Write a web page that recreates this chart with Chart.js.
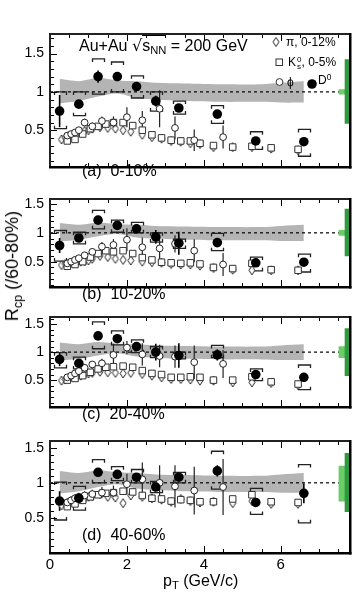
<!DOCTYPE html>
<html>
<head>
<meta charset="utf-8">
<script src="https://cdn.jsdelivr.net/npm/chart.js@4.4.0/dist/chart.umd.min.js"></script>
<style>
  body { margin: 0; background: #fff; }
  #wrap { position: relative; width: 362px; height: 600px; overflow: hidden;
          font-family: "Liberation Sans", Arial, Helvetica, sans-serif; color: #000; }
  #wrap canvas { position: absolute; left: 0; }
  .t { position: absolute; white-space: nowrap; line-height: 1; }
  .t sub { font-size: 70%; vertical-align: -0.3em; line-height: 0; }
  .t sup { font-size: 70%; vertical-align: 0.5em; line-height: 0; }
</style>
</head>
<body>
<div id="wrap">
  <canvas id="pa" width="362" height="179" style="top:20px"></canvas>
  <canvas id="pb" width="362" height="134" style="top:185px"></canvas>
  <canvas id="pc" width="362" height="136" style="top:303px"></canvas>
  <canvas id="pd" width="362" height="152" style="top:427px"></canvas>

  <div class="t" style="left:79px;top:38px;font-size:16px">Au+Au <span style="font-family:'DejaVu Sans'">√</span><span style="border-top:1px solid #000;padding-top:1px">s<sub>NN</sub></span> = 200 GeV</div>

  <div class="t" style="left:286px;top:36px;font-size:12px">π, 0-12%</div>
  <div class="t" style="left:288px;top:56px;font-size:12px">K<span style="display:inline-block;font-size:8px;line-height:7px;vertical-align:-3px;margin-left:1px">0<br>s</span>, 0-5%</div>
  <div class="t" style="left:287px;top:76px;font-size:12px">ϕ</div>
  <div class="t" style="left:318px;top:74px;font-size:12px">D<sup>0</sup></div>

  <div class="t" style="left:82px;top:163px;font-size:16px">(a)&nbsp; 0-10%</div>
  <div class="t" style="left:82px;top:286px;font-size:16px">(b)&nbsp; 10-20%</div>
  <div class="t" style="left:82px;top:406px;font-size:16px">(c)&nbsp; 20-40%</div>
  <div class="t" style="left:82px;top:527px;font-size:16px">(d)&nbsp; 40-60%</div>

  <div class="t" style="left:12px;top:266px;font-size:18px;transform:translate(-50%,-50%) rotate(-90deg)">R<sub>cp</sub> (/60-80%)</div>
  <div class="t" style="left:163px;top:573px;font-size:16px">p<sub>T</sub> (GeV/c)</div>
</div>

<script>
// D0 points (same pT bins in every panel)
const pTD0 = [0.25, 0.75, 1.25, 1.75, 2.25, 2.75, 3.35, 4.35, 5.35, 6.6];

const d0A    = [0.75, 0.84, 1.20, 1.20, 1.07, 0.88, 0.79, 0.71, 0.36, 0.35];
const statA  = [0.21, 0.05, 0.08, 0.06, 0.04, 0.07, 0.04, 0.05, 0.04, 0.05];
const sysHiA = [1.00, 1.00, 1.43, 1.39, 1.21, 1.00, 0.88, 0.82, 0.48, 0.51];
const sysLoA = [0.52, 0.69, 0.97, 1.00, 0.92, 0.75, 0.71, 0.59, 0.25, 0.16];

const d0B    = [0.78, 0.91, 1.22, 1.13, 1.07, 0.93, 0.82, 0.83, 0.48, 0.49];
const statB  = [0.13, 0.04, 0.06, 0.05, 0.05, 0.12, 0.20, 0.05, 0.05, 0.05];
const sysHiB = [1.04, 1.01, 1.39, 1.22, 1.18, 1.00, 0.89, 0.99, 0.58, 0.63];
const sysLoB = [0.51, 0.81, 1.07, 1.01, 1.00, 0.84, 0.73, 0.69, 0.34, 0.32];

const d0C    = [0.87, 0.80, 1.29, 1.24, 1.10, 1.00, 0.94, 0.95, 0.60, 0.55];
const statC  = [0.12, 0.05, 0.06, 0.05, 0.05, 0.15, 0.22, 0.10, 0.05, 0.07];
const sysHiC = [0.99, 0.91, 1.54, 1.38, 1.22, 1.10, 1.00, 1.12, 0.70, 0.77];
const sysLoC = [0.72, 0.70, 1.06, 1.13, 0.99, 0.90, 0.88, 0.90, 0.49, 0.33];

const d0D    = [0.74, 0.78, 1.15, 1.12, 1.08, 0.94, 1.08, 1.17, 0.72, 0.85];
const statD  = [0.14, 0.07, 0.06, 0.05, 0.05, 0.06, 0.05, 0.08, 0.06, 0.14];
const sysHiD = [1.01, 0.95, 1.33, 1.23, 1.19, 1.02, 1.15, 1.45, 0.92, 1.26];
const sysLoD = [0.47, 0.61, 1.00, 1.03, 1.00, 0.86, 1.00, 0.91, 0.55, 0.43];

// pi (0-12%)
const piX = [0.3, 0.4, 0.5, 0.6, 0.7, 0.8, 0.9, 1.0, 1.1, 1.3, 1.5, 1.7, 1.9, 2.1, 2.4, 2.65, 2.9, 3.15, 3.4, 3.65, 3.9, 4.25, 4.75, 5.25, 5.75, 6.45];
const piA = [0.38, 0.40, 0.42, 0.44, 0.46, 0.47, 0.49, 0.50, 0.52, 0.54, 0.53, 0.52, 0.50, 0.48, 0.44, 0.41, 0.39, 0.36, 0.35, 0.33, 0.32, 0.28, 0.28, 0.28, 0.26, 0.24];
const piB = [0.44, 0.46, 0.47, 0.48, 0.49, 0.50, 0.51, 0.52, 0.55, 0.60, 0.58, 0.55, 0.53, 0.52, 0.50, 0.49, 0.48, 0.46, 0.45, 0.45, 0.43, 0.39, 0.36, 0.35, 0.35, 0.35];
const piC = [0.49, 0.51, 0.53, 0.55, 0.56, 0.58, 0.60, 0.62, 0.63, 0.65, 0.64, 0.63, 0.62, 0.63, 0.61, 0.58, 0.55, 0.52, 0.52, 0.51, 0.49, 0.49, 0.46, 0.46, 0.45, 0.41];
const piD = [0.68, 0.70, 0.72, 0.74, 0.76, 0.77, 0.78, 0.80, 0.81, 0.84, 0.80, 0.79, 0.71, 0.82, 0.80, 0.78, 0.76, 0.73, 0.77, 0.74, 0.72, 0.73, 0.71, 0.74, 0.70, 0.70];

// K0s (0-5%)
const kX = [0.45, 0.65, 0.85, 1.05, 1.25, 1.45, 1.65, 1.9, 2.15, 2.4, 2.65, 2.9, 3.15, 3.4, 3.65, 3.9, 4.25, 4.75, 5.25, 5.75, 6.45];
const kA = [0.36, 0.38, 0.45, 0.52, 0.55, 0.58, 0.60, 0.60, 0.56, 0.50, 0.44, 0.40, 0.37, 0.36, 0.36, 0.33, 0.30, 0.28, 0.29, 0.27, 0.25];
const kB = [0.42, 0.45, 0.50, 0.58, 0.64, 0.69, 0.67, 0.69, 0.64, 0.57, 0.53, 0.49, 0.48, 0.47, 0.48, 0.46, 0.40, 0.38, 0.47, 0.36, 0.35];
const kC = [0.50, 0.53, 0.58, 0.64, 0.70, 0.73, 0.74, 0.75, 0.73, 0.67, 0.62, 0.60, 0.55, 0.55, 0.56, 0.55, 0.50, 0.50, 0.56, 0.47, 0.43];
const kD = [0.66, 0.70, 0.75, 0.80, 0.83, 0.85, 0.86, 0.88, 0.87, 0.82, 0.78, 0.77, 0.74, 0.76, 0.75, 0.73, 0.73, 0.77, 0.83, 0.73, 0.72];

// phi
const phiX = [0.45, 0.55, 0.65, 0.75, 0.9, 1.1, 1.35, 1.65, 2.0, 2.4, 2.85, 3.25, 3.75, 4.5];
const phiA = [0.43, 0.45, 0.47, 0.50, 0.60, 0.55, 0.62, 0.60, 0.67, 0.63, 0.78, 0.53, 0.37, 0.41];
const phiErrA = [0.04, 0.04, 0.04, 0.04, 0.05, 0.05, 0.06, 0.08, 0.13, 0.12, 0.24, 0.15, 0.14, 0.15];
const phiB = [0.47, 0.50, 0.53, 0.56, 0.61, 0.67, 0.76, 0.79, 0.88, 0.75, 0.73, 0.81, 0.69, 0.45];
const phiErrB = [0.04, 0.04, 0.04, 0.05, 0.05, 0.06, 0.08, 0.10, 0.20, 0.17, 0.20, 0.15, 0.20, 0.20];
const phiC = [0.55, 0.58, 0.62, 0.66, 0.72, 0.78, 0.80, 0.95, 1.08, 0.96, 0.93, 0.92, 0.82, 0.79];
const phiErrC = [0.05, 0.05, 0.05, 0.05, 0.06, 0.06, 0.08, 0.20, 0.12, 0.20, 0.20, 0.20, 0.30, 0.25];
const phiD = [0.72, 0.75, 0.78, 0.80, 0.82, 0.84, 0.86, 0.86, 0.98, 1.05, 1.00, 0.95, 0.89, 0.94];
const phiErrD = [0.06, 0.06, 0.06, 0.06, 0.06, 0.06, 0.08, 0.10, 0.15, 0.24, 0.25, 0.30, 0.34, 0.40];

// grey band around unity
const bandX  = [0.25, 0.75, 1.25, 1.75, 2.25, 2.75, 3.5, 4.5, 5.5, 6.0, 6.6];
const bandHi = [1.17, 1.14, 1.18, 1.15, 1.14, 1.12, 1.11, 1.10, 1.10, 1.12, 1.14];
const bandLo = [0.85, 0.88, 0.94, 0.98, 0.92, 0.90, 0.88, 0.87, 0.87, 0.86, 0.86];

// normalisation boxes at the right edge
const normX = [7.59, 7.735];
const normLightLo = [0.97, 0.955, 0.90, 0.74];
const normLightHi = [1.03, 1.045, 1.10, 1.24];
const normDarkLo  = [0.59, 0.60, 0.58, 0.59];
const normDarkHi  = [1.42, 1.41, 1.42, 1.42];

const refX = [0, 7.55];
const refY = [1, 1];
const xTickVals = [0, 2, 4, 6];
const yTickVals = [0.5, 1, 1.5];

const FONT = '"Liberation Sans", Arial, Helvetica, sans-serif';

function pts(xs, ys) {
  return xs.map(function (x, i) { return { x: x, y: ys[i] }; });
}

// tall open diamond marker for pions
function diamondImg(w, h) {
  var c = document.createElement('canvas');
  c.width = w + 2; c.height = h + 2;
  var g = c.getContext('2d');
  g.beginPath();
  g.moveTo(c.width / 2, 1);
  g.lineTo(c.width - 1, c.height / 2);
  g.lineTo(c.width / 2, c.height - 1);
  g.lineTo(1, c.height / 2);
  g.closePath();
  g.fillStyle = '#fff'; g.fill();
  g.strokeStyle = '#222'; g.lineWidth = 1; g.stroke();
  return c;
}
var diamond = diamondImg(6, 9);

// error bars + systematic brackets, drawn after the band and dashed line
var errPlugin = {
  id: 'errs',
  afterDatasetDraw: function (chart, args, opts) {
    if (args.index !== 6) return;
    var ctx = chart.ctx, x = chart.scales.x, y = chart.scales.y;
    ctx.save();
    ctx.setLineDash([]);
    ctx.strokeStyle = '#222';
    ctx.lineWidth = 1.2;
    opts.phi.forEach(function (v, i) {
      var px = x.getPixelForValue(phiX[i]);
      ctx.beginPath();
      ctx.moveTo(px, y.getPixelForValue(v - opts.phiErr[i]));
      ctx.lineTo(px, y.getPixelForValue(v + opts.phiErr[i]));
      ctx.stroke();
    });
    ctx.strokeStyle = '#000';
    ctx.lineWidth = 1.6;
    opts.d0.forEach(function (v, i) {
      var px = x.getPixelForValue(pTD0[i]);
      ctx.beginPath();
      ctx.moveTo(px, y.getPixelForValue(v - opts.stat[i]));
      ctx.lineTo(px, y.getPixelForValue(v + opts.stat[i]));
      ctx.stroke();
    });
    ctx.strokeStyle = '#222';
    ctx.lineWidth = 1.3;
    pTD0.forEach(function (xv, i) {
      var px = Math.round(x.getPixelForValue(xv)) + 0.5;
      var hi = y.getPixelForValue(opts.sysHi[i]);
      var lo = y.getPixelForValue(opts.sysLo[i]);
      ctx.beginPath();
      ctx.moveTo(px - 6, hi + 3); ctx.lineTo(px - 6, hi); ctx.lineTo(px + 6, hi); ctx.lineTo(px + 6, hi + 3);
      ctx.moveTo(px - 6, lo - 3); ctx.lineTo(px - 6, lo); ctx.lineTo(px + 6, lo); ctx.lineTo(px + 6, lo - 3);
      ctx.stroke();
    });
    ctx.restore();
  }
};

// frame with inward ticks, drawn with filled rectangles
var framePlugin = {
  id: 'panelFrame',
  afterDraw: function (chart) {
    var ctx = chart.ctx, a = chart.chartArea, x = chart.scales.x, y = chart.scales.y;
    var L = Math.round(a.left), R = Math.round(a.right), T = Math.round(a.top), B = Math.round(a.bottom);
    ctx.save();
    ctx.setLineDash([]);
    ctx.fillStyle = '#000';
    for (var k = 1; k <= 15; k++) {
      var px = Math.round(x.getPixelForValue(k * 0.5));
      var len = (k % 4 === 0) ? 7 : 4;
      ctx.fillRect(px, B - len, 1, len);
      ctx.fillRect(px, T, 1, len);
    }
    for (var j = Math.ceil(y.min * 10); j <= Math.floor(y.max * 10); j++) {
      var py = Math.round(y.getPixelForValue(j / 10));
      var ly = (j % 5 === 0) ? 7 : 4;
      ctx.fillRect(L, py, ly, 1);
    }
    ctx.fillStyle = '#222';
    ctx.fillRect(L - 1, T - 1, 2, B - T + 2);     // left
    ctx.fillRect(L - 1, T - 1, R - L + 2, 2);     // top
    ctx.fillStyle = '#000';
    ctx.fillRect(R - 1, T - 1, 2.5, B - T + 2.5); // right
    ctx.fillRect(L - 1, B - 1, R - L + 2.5, 2.5); // bottom
    ctx.restore();
  }
};

// legend markers inside panel (a)
var legendPlugin = {
  id: 'legendMarks',
  afterDraw: function (chart, args, opts) {
    if (!opts.on) return;
    var ctx = chart.ctx, off = 20;
    ctx.save();
    ctx.drawImage(diamond, 276 - diamond.width / 2, 42 - off - diamond.height / 2);
    ctx.fillStyle = '#fff'; ctx.strokeStyle = '#333'; ctx.lineWidth = 1;
    ctx.fillRect(276, 59 - off, 6.5, 6.5); ctx.strokeRect(276, 59 - off, 6.5, 6.5);
    ctx.beginPath(); ctx.arc(279.5, 82 - off, 3.4, 0, Math.PI * 2); ctx.fill(); ctx.stroke();
    ctx.fillStyle = '#000';
    ctx.beginPath(); ctx.arc(312, 84 - off, 4.8, 0, Math.PI * 2); ctx.fill();
    ctx.restore();
  }
};

function makePanel(id, cfg) {
  return new Chart(document.getElementById(id), {
    type: 'scatter',
    data: {
      datasets: [
        { label: 'D0', data: pts(pTD0, cfg.d0), pointStyle: 'circle', pointRadius: 4.8,
          backgroundColor: '#000', borderColor: '#000', borderWidth: 0 },
        { label: 'phi', data: pts(phiX, cfg.phi), pointStyle: 'circle', pointRadius: 3.4,
          backgroundColor: '#fff', borderColor: '#222', borderWidth: 1 },
        { label: 'K0s', data: pts(kX, cfg.k), pointStyle: 'rect', pointRadius: 4.6,
          backgroundColor: '#fff', borderColor: '#333', borderWidth: 1 },
        { label: 'pi', data: pts(piX, cfg.pi), pointStyle: diamond, pointRadius: 4 },
        { type: 'bar', label: 'norm', data: [{ x: normX[1], y: [cfg.nd[0], cfg.nd[1]] }],
          backgroundColor: '#2f9a3c', barThickness: 5, grouped: false, borderWidth: 0 },
        { type: 'bar', label: 'norm2', data: [{ x: normX[0], y: [cfg.nl[0], cfg.nl[1]] }],
          backgroundColor: '#6acd6a', barThickness: 6, grouped: false, borderWidth: 0 },
        { type: 'line', label: 'unity', data: pts(refX, refY), borderColor: '#000', borderWidth: 1.2,
          borderDash: [3, 3], pointRadius: 0, fill: false },
        { type: 'line', label: 'bandHi', data: pts(bandX, bandHi), borderWidth: 0, borderColor: 'rgba(0,0,0,0)',
          pointRadius: 0, fill: '+1', backgroundColor: '#b4b4b4', tension: 0.3 },
        { type: 'line', label: 'bandLo', data: pts(bandX, bandLo), borderWidth: 0, borderColor: 'rgba(0,0,0,0)',
          pointRadius: 0, fill: false, tension: 0.3 }
      ]
    },
    options: {
      responsive: false,
      animation: false,
      devicePixelRatio: 1,
      events: [],
      layout: { padding: { left: 0, right: 12, top: 10, bottom: cfg.showX ? 4 : 10 } },
      plugins: {
        legend: { display: false },
        tooltip: { enabled: false },
        errs: cfg,
        legendMarks: { on: !!cfg.legend }
      },
      scales: {
        x: {
          type: 'linear', min: 0, max: 7.8, display: !!cfg.showX, offset: false,
          grid: { display: false, drawTicks: false, offset: false }, border: { display: false },
          afterBuildTicks: function (s) { s.ticks = xTickVals.map(function (v) { return { value: v }; }); },
          ticks: { font: { family: FONT, size: 15 }, color: '#000', padding: 3, maxRotation: 0, autoSkip: false },
          afterFit: function (s) { s.height = 22; }
        },
        y: {
          type: 'linear', min: cfg.yMin, max: cfg.yMax, offset: false,
          grid: { display: false, drawTicks: false }, border: { display: false },
          afterBuildTicks: function (s) { s.ticks = yTickVals.map(function (v) { return { value: v }; }); },
          ticks: { font: { family: FONT, size: 14 }, color: '#000', padding: 6, autoSkip: false,
                   callback: function (v) { return String(v); } },
          afterFit: function (s) { s.width = 50; }
        }
      }
    },
    plugins: [errPlugin, framePlugin, legendPlugin]
  });
}

makePanel('pa', { yMin: 0.02, yMax: 1.75, d0: d0A, stat: statA, sysHi: sysHiA, sysLo: sysLoA,
  pi: piA, k: kA, phi: phiA, phiErr: phiErrA, nl: [normLightLo[0], normLightHi[0]], nd: [normDarkLo[0], normDarkHi[0]], legend: true });
makePanel('pb', { yMin: 0.06, yMax: 1.58, d0: d0B, stat: statB, sysHi: sysHiB, sysLo: sysLoB,
  pi: piB, k: kB, phi: phiB, phiErr: phiErrB, nl: [normLightLo[1], normLightHi[1]], nd: [normDarkLo[1], normDarkHi[1]] });
makePanel('pc', { yMin: 0.02, yMax: 1.62, d0: d0C, stat: statC, sysHi: sysHiC, sysLo: sysLoC,
  pi: piC, k: kC, phi: phiC, phiErr: phiErrC, nl: [normLightLo[2], normLightHi[2]], nd: [normDarkLo[2], normDarkHi[2]] });
makePanel('pd', { yMin: 0.0, yMax: 1.59, d0: d0D, stat: statD, sysHi: sysHiD, sysLo: sysLoD,
  pi: piD, k: kD, phi: phiD, phiErr: phiErrD, nl: [normLightLo[3], normLightHi[3]], nd: [normDarkLo[3], normDarkHi[3]], showX: true });
</script>
</body>
</html>
